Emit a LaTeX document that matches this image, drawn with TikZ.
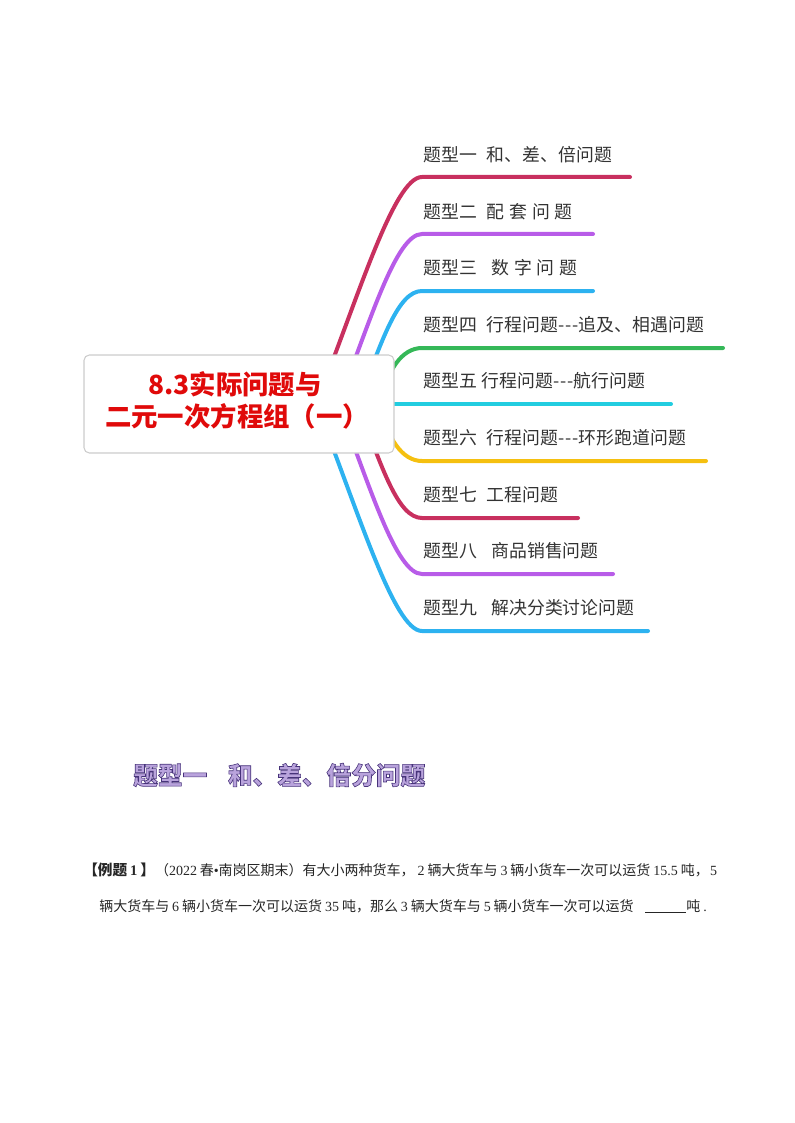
\documentclass[tikz,border=0pt]{standalone}
\usepackage{fontspec}
\setmainfont{Liberation Serif}
\newfontfamily\cjk{Noto Sans CJK SC}
\definecolor{crimsonB}{HTML}{C8305F}
\definecolor{violetB}{HTML}{B85CE8}
\definecolor{blueB}{HTML}{2DB2F0}
\definecolor{greenB}{HTML}{35B858}
\definecolor{cyanB}{HTML}{22CDE0}
\definecolor{yellowB}{HTML}{F5C010}
\definecolor{titleR}{HTML}{E00A0A}
\definecolor{headP}{HTML}{B9A3DC}
\newcommand{\lat}[1]{\hspace{2.2pt}{\rmfamily #1}\hspace{2.2pt}}
\newcommand{\hyp}{-\kern0.7pt-\kern0.7pt-}
\newcommand{\outl}[1]{\special{pdf:code q 0.28 0.20 0.48 RG 0.45 w 2 Tr}#1\special{pdf:code 0 Tr Q}}
\begin{document}
\begin{tikzpicture}[x=0.75pt,y=-0.75pt,branch/.style={line width=3pt,line cap=round},topic/.style={anchor=west,inner sep=0,font=\cjk\fontsize{13.4}{16}\selectfont,text=black!80},bodyline/.style={anchor=west,inner sep=0,font=\cjk\fontsize{10.5}{12}\selectfont,text=black!85},rootbox/.style={draw=black!20,fill=white,rounded corners=4pt,line width=0.8pt,minimum width=232.5pt,minimum height=73.5pt,inner sep=0,align=center,font=\cjk\bfseries\fontsize{19.8}{24}\selectfont,text=titleR}]
\useasboundingbox (0,0) rectangle (794,1123);

\coordinate (sA) at (316,404);
\coordinate (eA) at (630,177);
\draw[branch,crimsonB] (sA) .. controls (358,298) and (394,177) .. (422,177) -- (eA);
\coordinate (sB) at (338,404);
\coordinate (eB) at (593,234);
\draw[branch,violetB] (sB) .. controls (370,322) and (396,234) .. (422,234) -- (eB);
\coordinate (sC) at (358,404);
\coordinate (eC) at (593,291);
\draw[branch,blueB] (sC) .. controls (382,340) and (398,291) .. (422,291) -- (eC);
\coordinate (sD) at (380,404);
\coordinate (eD) at (723,348);
\draw[branch,greenB] (sD) .. controls (387,370) and (402,348) .. (422,348) -- (eD);
\coordinate (sE) at (350,404);
\coordinate (eE) at (671,404);
\draw[branch,cyanB] (sE) -- (eE);
\coordinate (sF) at (380,404);
\coordinate (eF) at (706,461);
\draw[branch,yellowB] (sF) .. controls (387,438) and (402,461) .. (422,461) -- (eF);
\coordinate (sG) at (358,404);
\coordinate (eG) at (578,518);
\draw[branch,crimsonB] (sG) .. controls (382,468) and (398,518) .. (422,518) -- (eG);
\coordinate (sH) at (338,404);
\coordinate (eH) at (613,574);
\draw[branch,violetB] (sH) .. controls (370,486) and (396,574) .. (422,574) -- (eH);
\coordinate (sI) at (316,404);
\coordinate (eI) at (648,631);
\draw[branch,blueB] (sI) .. controls (358,510) and (394,631) .. (422,631) -- (eI);

\node[rootbox] (root) at (239,404) {8.3实际问题与\kern6pt\\\kern3pt二元一次方程组（一）\kern6pt\rule[-8pt]{0pt}{1pt}};

\node[topic] (tA) at (423,155) {题型一\hspace{7.5pt}和、差、倍问题};
\node[topic] (tB) at (423,212) {题型二\hspace{7.5pt}配\hspace{3.6pt}套\hspace{3.6pt}问\hspace{3.6pt}题};
\node[topic] (tC) at (423,268) {题型三\hspace{11pt}数\hspace{3.6pt}字\hspace{3.6pt}问\hspace{3.6pt}题};
\node[topic] (tD) at (423,325) {题型四\hspace{7.5pt}行程问题\hyp 追及、相遇问题};
\node[topic] (tE) at (423,381) {题型五\hspace{3.6pt}行程问题\hyp 航行问题};
\node[topic] (tF) at (423,438) {题型六\hspace{7.5pt}行程问题\hyp 环形跑道问题};
\node[topic] (tG) at (423,495) {题型七\hspace{7.5pt}工程问题};
\node[topic] (tH) at (423,551) {题型八\hspace{11pt}商品销售问题};
\node[topic] (tI) at (423,608) {题型九\hspace{11pt}解决分类讨论问题};

\node[anchor=west,inner sep=0,font=\cjk\bfseries\fontsize{18.5}{22}\selectfont,text=headP] (head) at (133,775) {\outl{题型一\hspace{15.5pt}和、差、倍分问题}};

\node[bodyline] (lineA) at (83,870) {{\bfseries\fontsize{11}{12}\selectfont 【例题\lat{1}】}（{\rmfamily 2022}\hspace{2pt}春{\rmfamily •}南岗区期末）有大小两种货车，\lat{2}辆大货车与\lat{3}辆小货车一次可以运货\lat{15.5}吨，\hspace{1pt}{\rmfamily 5}};
\node[bodyline] (lineB) at (99,906) {辆大货车与\lat{6}辆小货车一次可以运货\lat{35}吨，那么\lat{3}辆大货车与\lat{5}辆小货车一次可以运货\hspace{8.5pt}\rule[-1pt]{31pt}{0.5pt}吨\lat{.}};
\end{tikzpicture}
\end{document}
